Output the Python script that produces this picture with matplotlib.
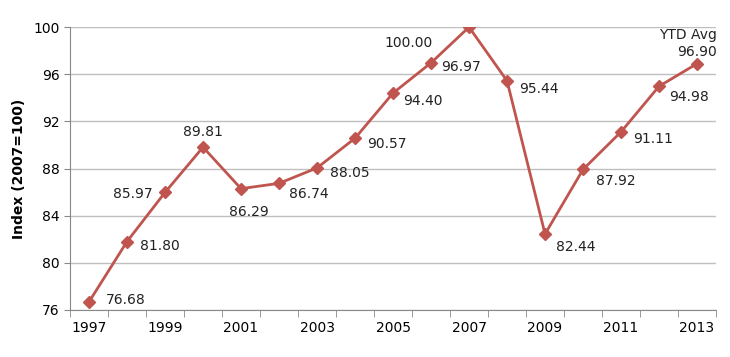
import numpy as np
import matplotlib.pyplot as plt
from matplotlib.ticker import FixedLocator

years = list(range(1997, 2014))
index_vals = [76.68, 81.80, 85.97, 89.81, 86.29, 86.74, 88.05, 90.57, 94.40,
              96.97, 100.00, 95.44, 82.44, 87.92, 91.11, 94.98, 96.90]
point_labels = ['%.2f' % v for v in index_vals]
point_labels[-1] = 'YTD Avg\n96.90'

# label offsets in points (dx, dy) from the marker, plus alignment
offsets = [(12, 1), (9, -3), (-9, -1), (0, 6), (6, -16.5), (7, -8), (9, -4),
           (9, -4.5), (7, -6), (7, -3), (-26, -11.5), (9, -6), (8, -9.5),
           (9, -8.6), (9, -5), (7, -8), (14, 3)]
aligns = ['left', 'left', 'right', 'center', 'center', 'left', 'left', 'left',
          'left', 'left', 'right', 'left', 'left', 'left', 'left', 'left',
          'right']

line_col = '#C0554F'
grid_col = '#BFBFBF'

fig = plt.figure(figsize=(7.3, 3.57), dpi=100)
ax = fig.add_axes([0.0959, 0.132, 0.885, 0.792])

x = np.arange(len(years))
ax.plot(x, index_vals, color=line_col, lw=2.0, marker='D', ms=6.5,
        mfc=line_col, mec=line_col, zorder=3)

for i, (xi, yi, lab) in enumerate(zip(x, index_vals, point_labels)):
    dx, dy = offsets[i]
    va = 'center'
    if i == 3 or lab.startswith('YTD'):
        va = 'bottom'
    ax.annotate(lab, (xi, yi), xytext=(dx, dy), textcoords='offset points',
                ha=aligns[i], va=va, fontsize=10, color='#222222',
                linespacing=1.3, multialignment='right')

ax.set_xlim(-0.5, len(years) - 0.5)
ax.set_ylim(76, 100)
ax.set_yticks(np.arange(76, 101, 4))
ax.set_xticks(x[::2])
ax.set_xticklabels([str(y) for y in years[::2]])
ax.xaxis.set_minor_locator(FixedLocator(np.arange(-0.5, len(years), 1)))
ax.tick_params(axis='x', which='major', length=0, labelsize=10, pad=8)
ax.tick_params(axis='x', which='minor', length=5, color='#888888')
ax.tick_params(axis='y', length=4, color='#888888', labelsize=10)

ax.grid(axis='y', color=grid_col, lw=1)
ax.set_axisbelow(True)
for s in ['top', 'right']:
    ax.spines[s].set_visible(False)
for s in ['left', 'bottom']:
    ax.spines[s].set_color('#888888')

ax.set_ylabel('Index (2007=100)', fontsize=10, fontweight='bold', labelpad=5)

fig.savefig('out.png', dpi=100)
